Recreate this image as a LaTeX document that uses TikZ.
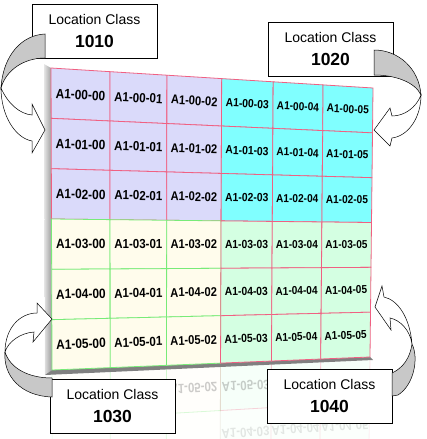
\documentclass[tikz,border=0pt]{standalone}
\usepackage{fontspec}
\setmainfont{Liberation Sans}
\usetikzlibrary{calc}

\definecolor{lavender}{RGB}{218,218,250}
\definecolor{aqua}{RGB}{128,255,255}
\definecolor{cream}{RGB}{255,252,236}
\definecolor{mint}{RGB}{212,255,226}
\definecolor{redline}{RGB}{240,96,130}
\definecolor{greenline}{RGB}{120,235,120}
\definecolor{backside}{RGB}{200,200,200}

\tikzset{
  binlabel/.style={font=\fontsize{13.5}{13.5}\selectfont\bfseries, inner sep=0pt},
  classbox/.style={draw, fill=white, line width=0.7pt, minimum width=125pt,
    minimum height=54pt, align=center, font=\fontsize{14}{23}\selectfont},
  ribbonback/.style={draw, fill=backside, line width=0.5pt},
  ribbonfront/.style={draw, fill=white, line width=0.5pt},
}

\begin{document}
\begin{tikzpicture}[x=1pt,y=-1pt]
    \useasboundingbox (0,0) rectangle (427,439);
    % corners of the bin grid
    \coordinate (TL) at (51,68);
    \coordinate (TR) at (373,88);
    \coordinate (BR) at (370,357);
    \coordinate (BL) at (52,370);
    \foreach \i/\u in {0/0,1/.183,2/.36,3/.53,4/.69,5/.845,6/1}
      \foreach \j in {0,...,6}
        \coordinate (p\i\j) at ($($(TL)!\u!(TR)$)!\j/6!($(BL)!\u!(BR)$)$);
    % mirrored rows under the grid
    \foreach \i in {0,...,6} {
      \coordinate (r\i0) at (p\i6);
      \coordinate (r\i1) at ($(p\i6)!-1!(p\i5)$);
      \coordinate (r\i2) at ($(p\i6)!-1!(p\i4)$);
    }
    \foreach \k/\o in {1/.2,2/.1}
      \foreach \i in {0,...,5} {
        \pgfmathtruncatemacro\ii{\i+1}
        \pgfmathtruncatemacro\kk{\k-1}
        \pgfmathtruncatemacro\row{6-\k}
        \ifnum\i<3 \def\shade{cream}\def\edge{greenline}\else\def\shade{mint}\def\edge{redline}\fi
        \filldraw[fill=\shade, draw=\edge, line width=0.8pt, opacity=\o]
          (r\i\kk) -- (r\ii\kk) -- (r\ii\k) -- (r\i\k) -- cycle;
      }
    \foreach \i/\k in {0/1,1/1,2/1,3/1,4/1,5/1,3/2,4/2,5/2} {
      \pgfmathtruncatemacro\ii{\i+1}
      \pgfmathtruncatemacro\kk{\k-1}
      \pgfmathtruncatemacro\row{6-\k}
      \path ($(r\i\kk)!.5!(r\i\k)$) -- ($(r\ii\kk)!.5!(r\ii\k)$)
        node[binlabel, sloped, midway, xscale=.85, opacity=.2/\k] (mirror\i\k) {\scalebox{1}[-1]{A1-0\row-0\i}};
    }
    % bevel of the board
    \shade[left color=black!10, right color=black!40] (44,64) -- (51,68) -- (52,370) -- (45,375) -- cycle;
    \fill[black!50] (45,375) -- (52,370) -- (370,357) -- (373,360) -- cycle;
    % cells, one block of 3x3 per location class
    \foreach \ci/\rj/\shade/\edge in {0/0/lavender/redline, 3/0/aqua/redline,
        0/3/cream/greenline, 3/3/mint/redline}
      \foreach \di in {0,1,2}
        \foreach \dj in {0,1,2} {
          \pgfmathtruncatemacro\i{\ci+\di}
          \pgfmathtruncatemacro\j{\rj+\dj}
          \pgfmathtruncatemacro\ii{\i+1}
          \pgfmathtruncatemacro\jj{\j+1}
          \filldraw[fill=\shade, draw=\edge, line width=0.8pt]
            (p\i\j) -- (p\ii\j) -- (p\ii\jj) -- (p\i\jj) -- cycle;
        }
    \foreach \i/\s in {0/1,1/.97,2/.94,3/.87,4/.85,5/.85}
      \foreach \j in {0,...,5} {
        \pgfmathtruncatemacro\ii{\i+1}
        \pgfmathtruncatemacro\jj{\j+1}
        \path ($(p\i\j)!.5!(p\i\jj)$) -- ($(p\ii\j)!.5!(p\ii\jj)$)
          node[binlabel, sloped, midway, scale=\s, xscale=.88] (bin\i\j) {A1-0\j-0\i};
      }
    % location class boxes
    \node[classbox] (lc1010) at (94.5,31) {Location Class\\{\fontsize{17.5}{23}\selectfont\bfseries 1010}};
    \node[classbox] (lc1020) at (330.5,49.5) {Location Class\\{\fontsize{17.5}{23}\selectfont\bfseries 1020}};
    \node[classbox] (lc1030) at (112.5,406) {Location Class\\{\fontsize{17.5}{23}\selectfont\bfseries 1030}};
    \node[classbox] (lc1040) at (329.5,396) {Location Class\\{\fontsize{17.5}{23}\selectfont\bfseries 1040}};
    % curved ribbon arrows
    \filldraw[ribbonback] (45,34) .. controls (22,35) and (3,55) .. (1,88)
      .. controls (6,70) and (24,58) .. (45,58) -- cycle;
    \filldraw[ribbonfront] (1,88) .. controls (8,104) and (20,114) .. (32,115)
      -- (32,104) -- (45,130) -- (32,153) -- (32,141)
      .. controls (15,138) and (1,115) .. (1,88) -- cycle;
    \filldraw[ribbonback] (374,50) .. controls (398,50) and (419,68) .. (421,95)
      .. controls (415,82) and (395,75) .. (374,75) -- cycle;
    \filldraw[ribbonfront] (421,95) .. controls (416,108) and (404,116) .. (392,116)
      -- (390,108) -- (374,130) -- (390,146) -- (392,138)
      .. controls (408,136) and (421,118) .. (421,95) -- cycle;
    \filldraw[ribbonfront] (5,352) .. controls (5,328) and (20,313) .. (37,313)
      -- (37,303) -- (52,319) -- (33,342) -- (34,332)
      .. controls (20,333) and (8,342) .. (5,352) -- cycle;
    \filldraw[ribbonback] (5,352) .. controls (3,375) and (20,396) .. (52,397)
      -- (52,378) .. controls (28,378) and (10,368) .. (5,352) -- cycle;
    \filldraw[ribbonfront] (412,344) .. controls (410,318) and (398,300) .. (384,297)
      -- (382,286) -- (375,307) -- (391,330) -- (390,318)
      .. controls (400,320) and (410,330) .. (412,344) -- cycle;
    \filldraw[ribbonback] (412,344) .. controls (419,358) and (414,385) .. (398,395)
      -- (392,396) -- (392,373) .. controls (403,368) and (410,358) .. (412,344) -- cycle;
\end{tikzpicture}
\end{document}
